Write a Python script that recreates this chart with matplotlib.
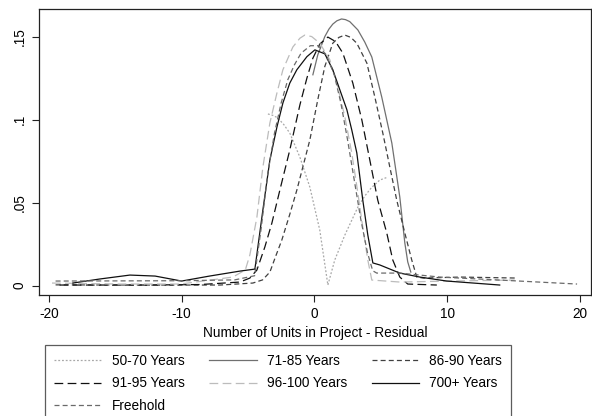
import matplotlib.pyplot as plt

plt.rcParams['font.family'] = ['Liberation Sans', 'DejaVu Sans']
plt.rcParams['axes.unicode_minus'] = False

# kernel density estimates of the residual, by lease length
x_50_70 = [-3.5, -3.1, -2.75, -2.3, -1.85, -1.09, -0.34, 0.41, 1.02, 1.54, 2.3, 3.28, 3.8, 4.3, 4.93, 5.54]
y_50_70 = [0.1034, 0.1025, 0.101, 0.097, 0.0919, 0.0774, 0.0594, 0.0335, 0.0004, 0.0155, 0.0305, 0.0473,
           0.054, 0.059, 0.0636, 0.0654]

x_71_85 = [-0.11, 0.26, 0.79, 1.1, 1.39, 1.7, 2.05, 2.35, 2.67, 3.28, 3.8, 4.33, 5.08, 5.84, 6.44, 6.82,
           7.04, 7.27]
y_71_85 = [0.127, 0.139, 0.150, 0.1545, 0.1575, 0.1595, 0.1606, 0.1602, 0.159, 0.154, 0.1467, 0.1377,
           0.1136, 0.0859, 0.0534, 0.0257, 0.0143, 0.0082]

x_86_90 = [-19.5, -12.4, -7.1, -4.63, -3.9, -3.35, -2.9, -2.45, -1.85, -1.32, -0.34, 0.26, 0.79, 1.39,
           1.85, 2.3, 2.75, 3.2, 3.96, 4.56, 5.16, 5.69, 6.21, 6.82, 7.34, 7.72, 8.2, 11.0, 15.3]
y_86_90 = [0.0005, 0.0004, 0.0004, 0.0016, 0.0035, 0.0082, 0.018, 0.0275, 0.043, 0.0575, 0.0877, 0.112,
           0.132, 0.146, 0.1495, 0.1509, 0.1495, 0.146, 0.134, 0.1136, 0.0919, 0.0714, 0.0515, 0.0317,
           0.0155, 0.0052, 0.0046, 0.0052, 0.0046]

x_91_95 = [-19.2, -12.4, -8.6, -5.6, -4.86, -4.33, -3.73, -3.2, -2.6, -1.85, -1.09, -0.56, -0.11, 0.41,
           1.02, 1.6, 2.15, 2.9, 3.58, 4.18, 4.78, 5.46, 5.91, 6.44, 7.04, 9.23]
y_91_95 = [0.0004, 0.0004, 0.0007, 0.0022, 0.0046, 0.0094, 0.0233, 0.0377, 0.0575, 0.0817, 0.1088, 0.125,
           0.137, 0.1455, 0.1497, 0.147, 0.140, 0.122, 0.0998, 0.0757, 0.0515, 0.0317, 0.0155, 0.0052,
           0.001, 0.0004]

x_96_100 = [-19.77, -14.65, -10.1, -6.14, -5.2, -4.86, -4.33, -3.88, -3.35, -2.82, -2.37, -1.62, -1.09,
            -0.72, -0.2, 0.41, 1.17, 1.77, 2.3, 2.82, 3.28, 3.65, 4.03, 4.33, 6.44, 10.2, 15.1]
y_96_100 = [0.0016, 0.001, 0.001, 0.0052, 0.0095, 0.0185, 0.0412, 0.0713, 0.098, 0.116, 0.130, 0.1437,
            0.149, 0.1509, 0.150, 0.146, 0.136, 0.1196, 0.1016, 0.080, 0.0557, 0.0353, 0.0155, 0.0034,
            0.0022, 0.0028, 0.0034]

x_700 = [-18.2, -16.2, -13.9, -12.0, -10.0, -7.9, -5.6, -4.48, -3.88, -3.35, -2.82, -2.37, -1.85, -1.32,
         -0.56, 0.04, 0.79, 1.39, 1.92, 2.45, 2.82, 3.2, 3.65, 4.03, 4.41, 4.93, 6.44, 7.95, 9.98, 13.97]
y_700 = [0.0016, 0.004, 0.0064, 0.0058, 0.0028, 0.0058, 0.0088, 0.010, 0.0455, 0.0757, 0.0955, 0.110,
         0.122, 0.130, 0.1379, 0.142, 0.1396, 0.130, 0.118, 0.106, 0.0938, 0.080, 0.0516, 0.0305, 0.0137,
         0.0125, 0.0076, 0.0052, 0.0028, 0.0004]

x_free = [-19.5, -10.0, -6.0, -4.5, -4.0, -3.5, -3.0, -2.5, -2.0, -1.5, -1.0, -0.3, 0.3, 0.9, 1.5, 2.0,
          2.5, 3.0, 3.5, 4.0, 4.4, 4.7, 6.44, 9.45, 13.97, 19.8]
y_free = [0.0028, 0.003, 0.0035, 0.006, 0.035, 0.068, 0.092, 0.110, 0.124, 0.133, 0.140, 0.1445, 0.1445,
          0.139, 0.127, 0.110, 0.088, 0.064, 0.040, 0.020, 0.009, 0.0076, 0.0076, 0.0052, 0.0034, 0.001]

series = [
    ('50-70 Years', x_50_70, y_50_70, '#a8a8a8', (0, (1.5, 1.5))),
    ('71-85 Years', x_71_85, y_71_85, '#707070', '-'),
    ('86-90 Years', x_86_90, y_86_90, '#404040', (0, (4, 2.5))),
    ('91-95 Years', x_91_95, y_91_95, '#101010', (0, (7, 3.5))),
    ('96-100 Years', x_96_100, y_96_100, '#bcbcbc', (0, (7, 3.5))),
    ('700+ Years', x_700, y_700, '#101010', '-'),
    ('Freehold', x_free, y_free, '#6a6a6a', (0, (4, 2.5))),
]

fs = 9.8

fig = plt.figure(figsize=(5.92, 4.16), dpi=100)
ax = fig.add_axes([39 / 592, 1 - 295 / 416, 552 / 592, 286 / 416])

handles = {}
for name, xs, ys, col, ls in series:
    h, = ax.plot(xs, ys, color=col, linestyle=ls, linewidth=0.9)
    handles[name] = h

ax.set_xlim(-20.75, 20.85)
ax.set_ylim(-0.0056, 0.1666)
ax.set_xticks([-20, -10, 0, 10, 20])
ax.set_yticks([0, 0.05, 0.1, 0.15])
ax.set_yticklabels(['0', '.05', '.1', '.15'], rotation=90, va='center')
ax.tick_params(labelsize=fs, length=5, width=0.8, color='#222222', pad=4)
for s in ax.spines.values():
    s.set_linewidth(0.9)
    s.set_color('#222222')
ax.set_xlabel('Number of Units in Project - Residual', fontsize=fs, labelpad=3)

# row-wise order across three legend columns
order = ['50-70 Years', '91-95 Years', 'Freehold',
         '71-85 Years', '96-100 Years',
         '86-90 Years', '700+ Years']
leg = fig.legend([handles[n] for n in order], order,
                 loc='upper left', bbox_to_anchor=(45 / 592, 1 - 345 / 416),
                 ncol=3, fontsize=fs, frameon=True, fancybox=False,
                 edgecolor='#333333', handlelength=3.5, handletextpad=0.75,
                 columnspacing=1.8, borderpad=0.64, labelspacing=0.64, borderaxespad=0)
leg.get_frame().set_linewidth(0.9)

fig.savefig('out.png', dpi=100)
